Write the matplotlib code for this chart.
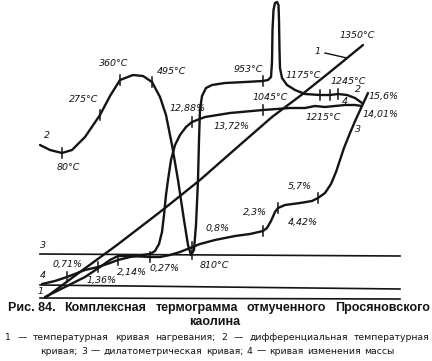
import matplotlib
matplotlib.use("Agg")
import matplotlib.pyplot as plt

# drawing units: 1 unit = 1 px of the 432x361 figure, y grows downwards

# 1 - heating temperature curve
temp_x = [45, 80, 117, 160, 200, 233, 272, 300, 330, 363]
temp_y = [298, 272, 245, 212, 180, 151, 117, 96, 72, 45]

# 2 - differential (DTA) curve
dta_x = [40, 50, 62, 72, 85, 100, 110, 120, 133, 143, 152, 160, 166, 172, 178,
         184, 188, 191, 194, 196, 198, 199, 200, 202, 206, 212, 225, 245, 263,
         268, 271, 272, 272.5, 273.5, 275, 277, 278.5, 279, 279.5, 280, 282,
         287, 295, 305, 320, 330, 338, 347, 355, 362]
dta_y = [145, 150, 153, 150, 137, 115, 96, 80, 75, 76, 82, 97, 115, 145, 180,
         220, 245, 255, 250, 225, 180, 140, 110, 96, 88, 85, 83, 82, 81,
         80, 77, 62, 30, 10, 3, 2, 5, 20, 50, 68, 78,
         85, 90, 94, 95, 95, 94, 95, 98, 103]

# 3 - dilatometric curve
dil_x = [45, 65, 85, 100, 110, 118, 130, 140, 150, 160, 170, 180, 190, 200,
         215, 235, 250, 263, 267, 271, 275, 278, 285, 300, 312, 318, 325, 331,
         336, 340, 344, 350, 356, 362, 368]
dil_y = [297, 287, 277, 267, 260, 256, 256, 256.5, 257, 257, 255, 252, 248,
         244, 240, 236, 234, 231, 228, 221, 212, 208, 205, 203, 201, 198, 193,
         184, 172, 160, 148, 133, 119, 106, 93]

# 4 - mass change curve
mass_x = [42, 55, 67, 85, 98, 110, 118, 130, 143, 150, 155, 159, 162, 164, 166,
          168, 171, 175, 180, 186, 192, 205, 230, 263, 290, 305, 315, 325, 335,
          345, 355, 362]
mass_y = [284, 281, 277, 270, 267, 263, 260, 257, 255, 254, 251, 244, 232, 215,
          195, 180, 160, 145, 135, 127, 122, 117, 113, 110, 108, 108, 106, 107,
          106, 105, 105, 106]

# zero lines of curves 3, 4, 1
base_left = [254, 285, 298]
base_right = [256, 289, 299]

# marked points (x of a curve vertex)
dta_marks = [62, 100, 120, 152, 263, 320, 330, 338]
dil_marks = [150, 263, 278, 318]
mass_marks = [67, 98, 118, 192, 263]

labels = [
    ("2", 47, 136), ("80°C", 68, 167), ("275°C", 84, 100), ("360°C", 114, 64),
    ("495°C", 172, 72), ("12,88%", 188, 108), ("953°C", 248, 70),
    ("1175°C", 303, 75), ("1045°C", 270, 98), ("13,72%", 232, 126),
    ("1245°C", 348, 81), ("2", 358, 90), ("4", 345, 101), ("15,6%", 384, 97),
    ("14,01%", 381, 114), ("1215°C", 323, 117), ("3", 358, 129),
    ("1350°C", 357, 35), ("1", 318, 52), ("5,7%", 300, 187), ("2,3%", 255, 213),
    ("4,42%", 303, 223), ("0,8%", 218, 229), ("810°C", 214, 265),
    ("0,27%", 165, 268), ("2,14%", 132, 273), ("1,36%", 102, 281),
    ("0,71%", 68, 265), ("3", 43, 246), ("4", 43, 276), ("1", 41, 291),
]

INK = "#141414"

fig = plt.figure(figsize=(4.32, 3.61), dpi=100)
ax = fig.add_axes([0, 0, 1, 1])
ax.set_xlim(0, 432)
ax.set_ylim(361, 0)
ax.axis("off")

for yl, yr in zip(base_left, base_right):
    ax.plot([40, 400], [yl, yr], color=INK, lw=1.2)

style = dict(color=INK, lw=1.7, solid_capstyle="round", solid_joinstyle="round")
ax.plot(temp_x, temp_y, **style)
ax.plot(dta_x, dta_y, **style)
ax.plot(dil_x, dil_y, **style)
ax.plot(mass_x, mass_y, **style)

for xs, ys, marks in [(dta_x, dta_y, dta_marks), (dil_x, dil_y, dil_marks),
                      (mass_x, mass_y, mass_marks)]:
    for m in marks:
        y = ys[xs.index(m)]
        ax.plot([m, m], [y - 5, y + 5], color=INK, lw=1.1)
# 810 °C mark through the DTA minimum
ax.plot([192, 192], [242, 259], color=INK, lw=1.1)
# leader of label 1
ax.plot([325, 347], [53, 58], color=INK, lw=1.0)

for txt, x, y in labels:
    ax.text(x, y, txt, ha="center", va="center", fontsize=6.8,
            fontstyle="italic", color=INK)

renderer = fig.canvas.get_renderer()


def justify(words, x0, x1, y, **kw):
    arts = [ax.text(0, y, w, ha="left", va="center", color=INK, **kw)
            for w in words]
    widths = [a.get_window_extent(renderer).width for a in arts]
    gap = (x1 - x0 - sum(widths)) / (len(words) - 1)
    x = x0
    for a, w in zip(arts, widths):
        a.set_x(x)
        x += w + gap


cap = dict(fontsize=9, fontweight="bold", family="Liberation Sans")
justify(["Рис. 84.", "Комплексная", "термограмма", "отмученного",
         "Просяновского"], 8, 430, 308, **cap)
ax.text(215, 322, "каолина", ha="center", va="center", color=INK, **cap)
small = dict(fontsize=6.7, family="DejaVu Sans")
justify("1 — температурная кривая нагревания; 2 — дифференциальная температурная".split(),
        5, 430, 338, **small)
justify("кривая; 3 — дилатометрическая кривая; 4 — кривая изменения массы".split(),
        40, 395, 351, **small)

fig.savefig("out.png", dpi=100)
